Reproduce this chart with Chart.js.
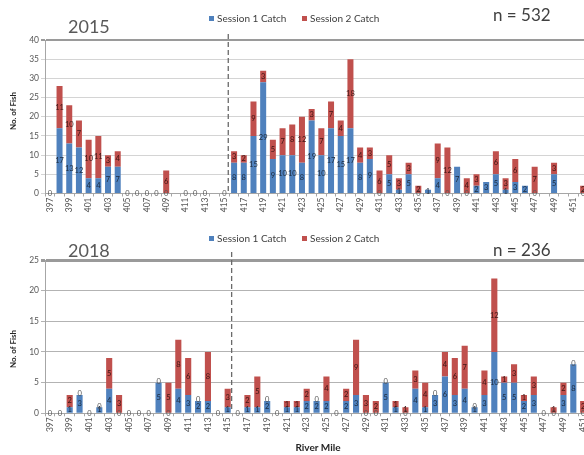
<!DOCTYPE html>
<html>
<head>
<meta charset="utf-8">
<title>Catch by River Mile</title>
<script src="https://cdn.jsdelivr.net/npm/chart.js@4"></script>
<style>
  html, body { margin: 0; padding: 0; background: #fff; }
  body { width: 584px; height: 455px; overflow: hidden; position: relative; font-family: Lato, "Liberation Sans", sans-serif; }
  canvas { position: absolute; left: 0; }
  #c2015 { top: 0; }
  #c2018 { top: 220px; }
  .txt { position: absolute; white-space: nowrap; line-height: 1; }
  .year { font-size: 18px; color: #595959; }
  .n { font-size: 17px; color: #404040; }
  .leg { font-size: 10px; color: #404040; }
  .leg i { display: inline-block; width: 5px; height: 5px; margin-right: 3px; vertical-align: 1px; }
  .axt { font-size: 8px; font-weight: bold; color: #262626; transform: translate(-50%, -50%); }
  .axt.rot { transform: translate(-50%, -50%) rotate(-90deg); }
  .axt.big { font-size: 10px; }
</style>
</head>
<body>
<canvas id="c2015" width="600" height="220"></canvas>
<canvas id="c2018" width="610" height="235"></canvas>

<div class="txt year" style="left:68px; top:17px;">2015</div>
<div class="txt leg" style="left:209px; top:13px;"><i style="background:#4F81BD"></i>Session 1 Catch</div>
<div class="txt leg" style="left:302px; top:13px;"><i style="background:#C0504D"></i>Session 2 Catch</div>
<div class="txt n" style="left:493px; top:6px;">n = 532</div>
<div class="txt axt rot" style="left:13px; top:111px;">No. of Fish</div>

<div class="txt year" style="left:68px; top:241px;">2018</div>
<div class="txt leg" style="left:209px; top:233px;"><i style="background:#4F81BD"></i>Session 1 Catch</div>
<div class="txt leg" style="left:302px; top:233px;"><i style="background:#C0504D"></i>Session 2 Catch</div>
<div class="txt n" style="left:493px; top:241px;">n = 236</div>
<div class="txt axt rot" style="left:13px; top:349px;">No. of Fish</div>
<div class="txt axt big" style="left:318px; top:447px;">River Mile</div>

<script>
// river miles on the x axis (only odd miles get a tick label)
const riverMiles = [397, 398, 399, 400, 401, 402, 403, 404, 405, 406, 407, 408, 409, 410,
  411, 412, 413, 414, 415, 416, 417, 418, 419, 420, 421, 422, 423, 424, 425, 426, 427, 428,
  429, 430, 431, 432, 433, 434, 435, 436, 437, 438, 439, 440, 441, 442, 443, 444, 445, 446,
  447, 448, 449, 450, 451, 452];

// 2015 catch per river mile (null = not sampled)
const session1_2015 = [0, 17, 13, 12, 4, 4, 7, 7, 0, 0, 0, 0, 0, null,
  0, 0, 0, null, 0, 8, 8, 15, 29, 9, 10, 10, 8, 19, 10, 17, 15, 17,
  8, 9, 0, 5, 1, 5, 0, 1, 4, 0, 7, 0, 2, 3, 5, 1, 3, 2,
  0, null, 5, null, null, 0];
const session2_2015 = [0, 11, 10, 7, 10, 11, 3, 4, 0, 0, 0, 0, 6, null,
  0, 0, 0, null, 0, 3, 2, 9, 3, 5, 7, 8, 12, 3, 7, 7, 4, 18,
  4, 3, 6, 5, 3, 3, 2, 0, 9, 12, 0, 4, 3, 0, 6, 3, 6, 0,
  7, null, 3, null, null, 2];

// 2018 catch per river mile
const session1_2018 = [0, 0, 1, 3, 0, 1, 4, 0, 0, 0, 0, 5, 0, 4,
  3, 2, 2, 0, 1, 0, 1, 1, 2, 0, 1, 1, 2, 2, 2, 0, 2, 3,
  0, 0, 5, 1, 0, 4, 1, 3, 6, 3, 4, 1, 3, 10, 5, 5, 2, 3,
  0, 0, 3, 8, 0, null];
const session2_2018 = [0, 0, 2, 0, 0, 0, 5, 3, 0, 0, 0, 0, 5, 8,
  6, 0, 8, 0, 3, 0, 2, 5, 0, 0, 1, 1, 2, 0, 4, 0, 2, 9,
  3, 2, 0, 1, 1, 3, 4, 0, 4, 6, 7, 0, 4, 12, 1, 3, 1, 3,
  0, 1, 2, 0, 2, null];

const yTicks2015 = { max: 40, step: 5 };
const yTicks2018 = { max: 25, step: 5 };
const dividerMile = 415.4;   // boundary between the two reaches

const BLUE = '#4F81BD';
const RED = '#C0504D';
const FONT = 'Lato, "Liberation Sans", sans-serif';

// numbers written inside each stacked segment
const valueLabels = {
  id: 'valueLabels',
  afterDatasetsDraw(chart, args, opts) {
    const ctx = chart.ctx;
    const sets = chart.data.datasets;
    ctx.save();
    ctx.font = '7.5px ' + FONT;
    ctx.textAlign = 'center';
    ctx.textBaseline = 'middle';
    sets.forEach((ds, di) => {
      const meta = chart.getDatasetMeta(di);
      meta.data.forEach((bar, i) => {
        const v = ds.data[i];
        if (v === null || v === undefined) return;
        if (v === 0) {
          if (di === 0) {
            ctx.fillStyle = '#595959';
            ctx.fillText('0', bar.x, bar.base);
          } else if (opts.zeroOnTop && sets[0].data[i] > 0) {
            ctx.fillStyle = '#555';
            ctx.fillText('0', bar.x, bar.y - 1);
          }
          return;
        }
        ctx.fillStyle = di === 0 ? '#1c2a3c' : '#3b1413';
        ctx.fillText(String(v), bar.x, (bar.y + bar.base) / 2);
      });
    });
    ctx.restore();
  }
};

// dashed vertical divider between reaches
const divider = {
  id: 'divider',
  beforeDatasetsDraw(chart, args, opts) {
    const x = chart.scales.x;
    const idx = riverMiles.indexOf(Math.floor(opts.mile));
    const step = x.getPixelForValue(idx + 1) - x.getPixelForValue(idx);
    const px = x.getPixelForValue(idx) + (opts.mile - Math.floor(opts.mile)) * step;
    const ctx = chart.ctx;
    ctx.save();
    ctx.strokeStyle = '#6a6a6a';
    ctx.lineWidth = 1.3;
    ctx.setLineDash([5, 3]);
    ctx.beginPath();
    ctx.moveTo(px, chart.chartArea.top - opts.above);
    ctx.lineTo(px, chart.chartArea.bottom - 2);
    ctx.stroke();
    ctx.restore();
  }
};

function makeChart(id, s1, s2, yt, cfg) {
  return new Chart(document.getElementById(id), {
    type: 'bar',
    data: {
      labels: riverMiles,
      datasets: [
        { label: 'Session 1 Catch', data: s1, backgroundColor: BLUE, barPercentage: 0.62, categoryPercentage: 1 },
        { label: 'Session 2 Catch', data: s2, backgroundColor: RED, barPercentage: 0.62, categoryPercentage: 1 }
      ]
    },
    options: {
      responsive: false,
      animation: false,
      devicePixelRatio: 1,
      layout: { padding: { top: 40, right: cfg.padRight, left: 0, bottom: 0 } },
      plugins: {
        legend: { display: false },
        tooltip: { enabled: false },
        valueLabels: { zeroOnTop: cfg.zeroOnTop },
        divider: { mile: dividerMile, above: cfg.dividerAbove }
      },
      scales: {
        x: {
          stacked: true,
          grid: { display: true, drawOnChartArea: false, drawTicks: true, tickLength: 3, offset: true, color: '#a6a6a6' },
          border: { color: '#a6a6a6' },
          ticks: {
            autoSkip: false, minRotation: 90, maxRotation: 90, padding: 1,
            color: '#595959', font: { family: FONT, size: 8.5 },
            callback: (v, i) => (riverMiles[i] % 2 === 1 ? String(riverMiles[i]) : '')
          },
          afterFit: s => { s.height = cfg.xHeight; }
        },
        y: {
          stacked: true,
          min: 0, max: yt.max,
          grid: {
            color: c => (c.tick && c.tick.value === yt.max ? '#9a9a9a' : cfg.gridColor),
            lineWidth: c => (c.tick && c.tick.value === yt.max ? cfg.topWidth : 1),
            tickLength: 4
          },
          border: { color: '#a6a6a6' },
          ticks: { stepSize: yt.step, padding: 2, color: '#595959', font: { family: FONT, size: 8.5 } },
          afterFit: s => { s.width = 45; }
        }
      }
    },
    plugins: [divider, valueLabels]
  });
}

makeChart('c2015', session1_2015, session2_2015, yTicks2015,
  { padRight: 12, xHeight: 26.5, gridColor: '#d4d4d4', topWidth: 2, zeroOnTop: false, dividerAbove: 6 });
makeChart('c2018', session1_2018, session2_2018, yTicks2018,
  { padRight: 12, xHeight: 41.7, gridColor: '#b3b3b3', topWidth: 3, zeroOnTop: true, dividerAbove: 8 });
</script>
</body>
</html>
